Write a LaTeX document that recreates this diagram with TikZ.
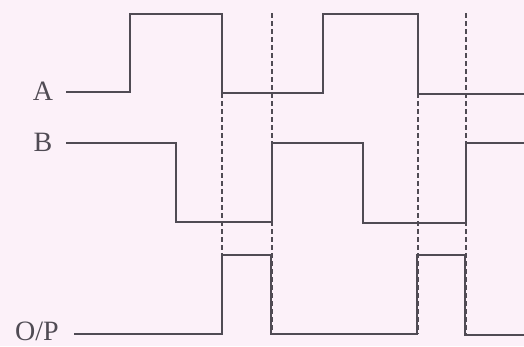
\documentclass[tikz,border=0pt]{standalone}
\usepackage{fontspec}
\setmainfont{Liberation Serif}
\definecolor{bg}{RGB}{252,241,249}
\definecolor{wave}{RGB}{80,75,84}
\begin{document}
\begin{tikzpicture}[x=1pt,y=-1pt,
  sig/.style={draw=wave,line width=2.2pt,line join=miter},
  guide/.style={draw=wave,line width=1.9pt,dash pattern=on 5pt off 3pt},
  lbl/.style={font=\fontsize{28}{28}\selectfont,text=wave,inner sep=0pt}]
\fill[bg] (0,0) rectangle (524,346);
\useasboundingbox (0,0) rectangle (524,346);
% dashed guides
\draw[guide] (222,13) -- (222,334);
\draw[guide] (272,13) -- (272,334);
\draw[guide] (418,13) -- (418,334);
\draw[guide] (466,13) -- (466,334);
% labels
\node[lbl] (la) at (43,91) {A};
\node[lbl] (lb) at (43,142) {B};
\node[lbl] (lo) at (37,331) {O/P};
% A
\coordinate (a0) at (66,92);
\draw[sig] (a0) -- (130,92) -- (130,14) -- (222,14) -- (222,93) -- (323,93) -- (323,14) -- (418,14) -- (418,94) -- (524,94);
% B
\coordinate (b0) at (66,143);
\draw[sig] (b0) -- (176,143) -- (176,222) -- (272,222) -- (272,143) -- (363,143) -- (363,223) -- (466,223) -- (466,143) -- (524,143);
% O/P
\coordinate (o0) at (74,334);
\draw[sig] (o0) -- (222,334) -- (222,255) -- (271,255) -- (271,334) -- (417,334) -- (417,255) -- (465,255) -- (465,335) -- (524,335);
\end{tikzpicture}
\end{document}
